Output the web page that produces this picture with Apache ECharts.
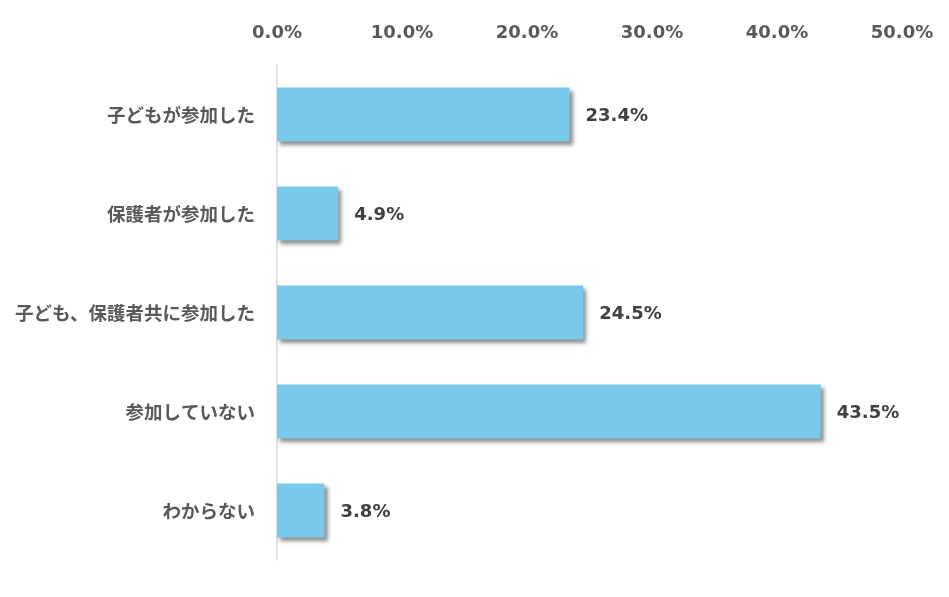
<!DOCTYPE html>
<html lang="ja">
<head>
<meta charset="UTF-8">
<title>参加状況</title>
<script src="https://cdn.jsdelivr.net/npm/echarts@6/dist/echarts.min.js"></script>
<style>
  html, body { margin: 0; padding: 0; background: #fff; }
  #chart { width: 949px; height: 597px; }
</style>
</head>
<body>
<div id="chart"></div>
<script>
var categories = ['子どもが参加した', '保護者が参加した', '子ども、保護者共に参加した', '参加していない', 'わからない'];
var values = [23.4, 4.9, 24.5, 43.5, 3.8];
var tickLabels = ['0.0%', '10.0%', '20.0%', '30.0%', '40.0%', '50.0%'];

var myChart = echarts.init(document.getElementById('chart'), null, { renderer: 'canvas' });
var numFont = '"DejaVu Sans", "Noto Sans CJK JP", sans-serif';
var jpFont = '"Noto Sans CJK JP", sans-serif';

var option = {
  animation: false,
  grid: { left: 277, right: 47, top: 65, height: 495, containLabel: false },
  xAxis: {
    type: 'value',
    position: 'top',
    min: 0,
    max: 50,
    interval: 10,
    axisLine: { show: false },
    axisTick: { show: false },
    splitLine: { show: false },
    axisLabel: {
      margin: 23,
      color: '#595959',
      fontSize: 18,
      fontWeight: 'bold',
      fontFamily: numFont,
      formatter: function (v) { return tickLabels[Math.round(v / 10)]; }
    }
  },
  yAxis: {
    type: 'category',
    inverse: true,
    data: categories,
    axisLine: { show: true, lineStyle: { color: '#d9d9d9', width: 1.5 } },
    axisTick: { show: false },
    axisLabel: {
      margin: 22,
      color: '#595959',
      fontSize: 18.5,
      fontWeight: 'bold',
      fontFamily: jpFont
    }
  },
  series: [{
    type: 'bar',
    data: values,
    barWidth: 54,
    itemStyle: {
      color: '#78c9ea',
      shadowColor: 'rgba(0,0,0,0.45)',
      shadowBlur: 4,
      shadowOffsetX: 3,
      shadowOffsetY: 3
    },
    label: {
      show: true,
      position: 'right',
      distance: 16,
      offset: [0, 2],
      color: '#404040',
      fontSize: 18,
      fontWeight: 'bold',
      fontFamily: numFont,
      formatter: function (p) { return p.value.toFixed(1) + '%'; }
    }
  }]
};

myChart.setOption(option);
window.addEventListener('resize', myChart.resize);
</script>
</body>
</html>
